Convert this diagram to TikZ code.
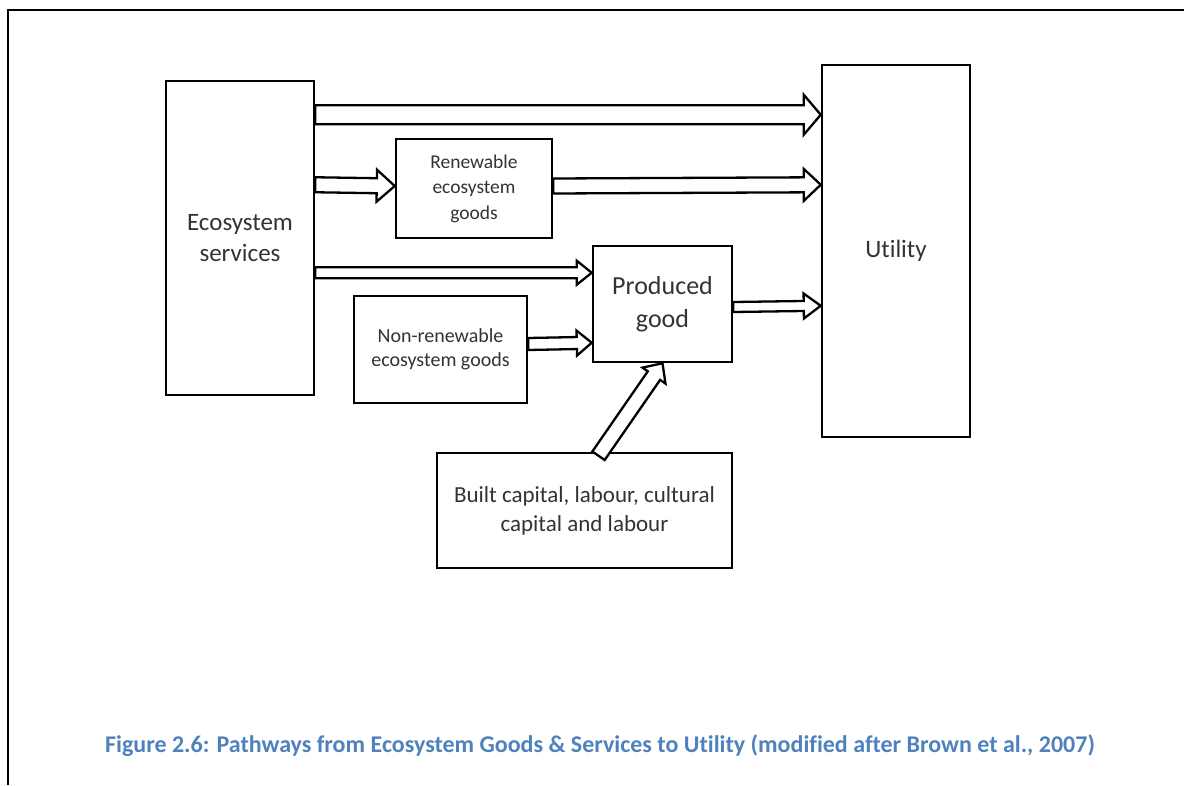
\documentclass[tikz,border=0pt]{standalone}
\usepackage{fontspec}
\setmainfont{Carlito}[Ligatures=NoCommon]
\usetikzlibrary{calc}
\definecolor{captionblue}{HTML}{4F81BD}
\definecolor{boxtext}{HTML}{333333}

% Hollow block arrow from #1 to #2:
% #3 shaft half-width, #4 head half-width, #5 head length (all in pt)
\newcommand\hollowarrow[5]{%
  \coordinate (ha-base) at ($(#2)!#5pt!(#1)$);
  \draw[arrowline]
    ($(#1)!#3pt!90:(#2)$) --
    ($(ha-base)!#3pt!-90:(#1)$) --
    ($(ha-base)!#4pt!-90:(#1)$) --
    (#2) --
    ($(ha-base)!#4pt!90:(#1)$) --
    ($(ha-base)!#3pt!90:(#1)$) --
    ($(#1)!#3pt!-90:(#2)$) -- cycle;
}

\begin{document}
\begin{tikzpicture}[x=1pt,y=-1pt,
  box/.style={draw=black, line width=2.5pt, fill=white, inner sep=0pt,
    align=center, text=boxtext},
  arrowline/.style={draw=black, line width=2.3pt, fill=white, line join=miter},
  frameline/.style={draw=black, line width=2.3pt}]

  \useasboundingbox (0,0) rectangle (1184,785);

  % page frame
  \coordinate (f-tr) at (1184,10);
  \coordinate (f-tl) at (8,10);
  \coordinate (f-bl) at (8,785);
  \draw[frameline] (f-tr) -- (f-tl) -- (f-bl);

  % boxes
  \node[box, minimum width=148pt, minimum height=314pt,
        font=\fontsize{25}{31}\selectfont] (eco) at (240,238)
        {Ecosystem\\services};
  \node[box, minimum width=148pt, minimum height=372pt,
        font=\fontsize{25}{31}\selectfont] (util) at (896,251) {Utility};
  \node[box, minimum width=156pt, minimum height=99pt,
        font=\fontsize{19.5}{25.5}\selectfont] (ren) at (474,188.5)
        {Renewable\\ecosystem\\goods};
  \node[box, minimum width=139pt, minimum height=116pt,
        font=\fontsize{26}{33}\selectfont] (prod) at (662.5,304)
        {Produced\\good};
  \node[box, minimum width=173pt, minimum height=107pt,
        font=\fontsize{20}{24}\selectfont] (non) at (440.5,349.5)
        {Non-renewable\\ecosystem goods};
  \node[box, minimum width=295pt, minimum height=115pt,
        font=\fontsize{23}{29}\selectfont] (built) at (584.5,510.5)
        {Built capital, labour, cultural\\capital and labour};

  % connectors
  \coordinate (a1s) at ($(eco.north east)+(0,35)$);
  \coordinate (a1e) at ($(util.north west)+(0,51)$);
  \hollowarrow{a1s}{a1e}{9.5}{20}{17}

  \coordinate (a2s) at ($(eco.north east)+(0,105)$);
  \coordinate (a2e) at ($(ren.west)+(0,-2.5)$);
  \hollowarrow{a2s}{a2e}{7.5}{16}{18}

  \coordinate (a3s) at ($(ren.east)+(0,-2.5)$);
  \coordinate (a3e) at ($(util.north west)+(0,121)$);
  \hollowarrow{a3s}{a3e}{7.5}{16}{17}

  \coordinate (a4s) at ($(eco.north east)+(0,193)$);
  \coordinate (a4e) at ($(prod.north west)+(0,28)$);
  \hollowarrow{a4s}{a4e}{5.5}{12}{15}

  \coordinate (a5s) at ($(prod.east)+(0,3)$);
  \coordinate (a5e) at ($(util.north west)+(0,242)$);
  \hollowarrow{a5s}{a5e}{5}{12.5}{17}

  \coordinate (a6s) at ($(non.east)+(0,-5.5)$);
  \coordinate (a6e) at ($(prod.north west)+(0,98)$);
  \hollowarrow{a6s}{a6e}{6}{12.5}{15}

  \coordinate (a7s) at ($(built.north)+(14,4)$);
  \coordinate (a7e) at (prod.south);
  \hollowarrow{a7s}{a7e}{7.5}{14}{15}

  % caption
  \node[font=\fontsize{24}{28}\selectfont\bfseries, text=captionblue]
    (caption) at (600,746)
    {Figure 2.6: Pathways from Ecosystem Goods \& Services to Utility (modified after Brown et al., 2007)};
\end{tikzpicture}
\end{document}
